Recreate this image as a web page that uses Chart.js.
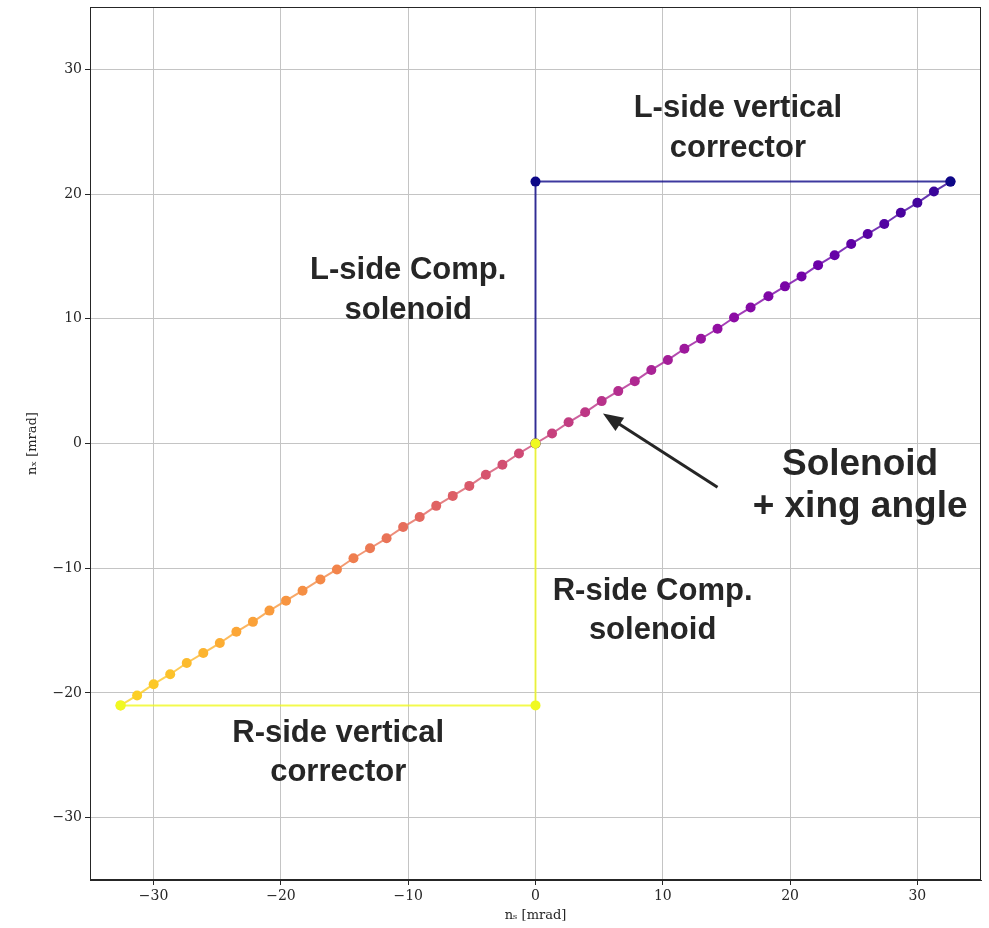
<!DOCTYPE html>
<html>
<head>
<meta charset="utf-8">
<script src="https://cdn.jsdelivr.net/npm/chart.js@4.4.1/dist/chart.umd.min.js"></script>
<style>
  body { margin: 0; background: #fff; }
  #wrap { width: 989px; height: 928px; }
</style>
</head>
<body>
<div id="wrap"><canvas id="chart" width="989" height="928"></canvas></div>
<script>
// spin direction along the path: solenoid + crossing angle (diagonal)
const diagX = [-32.6, -31.3, -30.0, -28.7, -27.4, -26.1, -24.8, -23.5, -22.2, -20.9,
  -19.6, -18.3, -16.9, -15.6, -14.3, -13.0, -11.7, -10.4, -9.1, -7.8,
  -6.5, -5.2, -3.9, -2.6, -1.3, 0.0, 1.3, 2.6, 3.9, 5.2,
  6.5, 7.8, 9.1, 10.4, 11.7, 13.0, 14.3, 15.6, 16.9, 18.3,
  19.6, 20.9, 22.2, 23.5, 24.8, 26.1, 27.4, 28.7, 30.0, 31.3, 32.6];
const diagY = [-21.0, -20.2, -19.3, -18.5, -17.6, -16.8, -16.0, -15.1, -14.3, -13.4,
  -12.6, -11.8, -10.9, -10.1, -9.2, -8.4, -7.6, -6.7, -5.9, -5.0,
  -4.2, -3.4, -2.5, -1.7, -0.8, 0.0, 0.8, 1.7, 2.5, 3.4,
  4.2, 5.0, 5.9, 6.7, 7.6, 8.4, 9.2, 10.1, 10.9, 11.8,
  12.6, 13.4, 14.3, 15.1, 16.0, 16.8, 17.6, 18.5, 19.3, 20.2, 21.0];

// L-side: vertical corrector then comp. solenoid
const lSideX = [32.6, 0, 0];
const lSideY = [21.0, 21.0, 0];
// R-side: comp. solenoid then vertical corrector
const rSideX = [0, 0, -32.6];
const rSideY = [0, -21.0, -21.0];

const xTicks = [-30, -20, -10, 0, 10, 20, 30];
const yTicks = [-30, -20, -10, 0, 10, 20, 30];

const notes = [
  { lines: ['L-side vertical', 'corrector'], x: 15.9, y: 25.3, size: 31, lh: 40 },
  { lines: ['L-side Comp.', 'solenoid'], x: -10.0, y: 12.3, size: 31, lh: 40 },
  { lines: ['Solenoid', '+ xing angle'], x: 25.5, y: -3.4, size: 37, lh: 42 },
  { lines: ['R-side Comp.', 'solenoid'], x: 9.2, y: -13.4, size: 31, lh: 39 },
  { lines: ['R-side vertical', 'corrector'], x: -15.5, y: -24.8, size: 31, lh: 39 }
];
const arrow = { from: [14.3, -3.5], to: [5.3, 2.4] };

// plasma colormap stops
const plasma = ['#0d0887', '#41049d', '#6a00a8', '#8f0da4', '#b12a90', '#cc4778',
  '#e16462', '#f2844b', '#fca636', '#fcce25', '#f0f921'];

function hexRgb(h) {
  return [parseInt(h.substr(1, 2), 16), parseInt(h.substr(3, 2), 16), parseInt(h.substr(5, 2), 16)];
}
function cmap(t, a) {
  t = Math.max(0, Math.min(1, t));
  const f = t * (plasma.length - 1);
  const i = Math.min(Math.floor(f), plasma.length - 2);
  const k = f - i;
  const c0 = hexRgb(plasma[i]), c1 = hexRgb(plasma[i + 1]);
  const c = c0.map((v, j) => Math.round(v + (c1[j] - v) * k));
  return 'rgba(' + c[0] + ',' + c[1] + ',' + c[2] + ',' + (a == null ? 1 : a) + ')';
}
const colT = diagX.map((_, i) => 0.92 - 0.017 * i);
const pointCols = colT.map(t => cmap(t));
const segCols = colT.map(t => cmap(t - 0.0085, 0.8));

const toPts = (xs, ys) => xs.map((x, i) => ({ x: x, y: ys[i] }));
const minus = v => String(v).replace('-', '\u2212');

const frame = {
  id: 'frame',
  afterDraw(chart) {
    const { ctx, chartArea: a, scales } = chart;
    ctx.save();
    // annotations
    ctx.fillStyle = '#262626';
    ctx.textAlign = 'center';
    ctx.textBaseline = 'middle';
    notes.forEach(n => {
      ctx.font = 'bold ' + n.size + 'px "Liberation Sans", Arial, sans-serif';
      const cx = scales.x.getPixelForValue(n.x);
      const cy = scales.y.getPixelForValue(n.y);
      n.lines.forEach((s, i) => {
        ctx.fillText(s, cx, cy + (i - (n.lines.length - 1) / 2) * n.lh);
      });
    });
    // arrow
    const x0 = scales.x.getPixelForValue(arrow.from[0]), y0 = scales.y.getPixelForValue(arrow.from[1]);
    const x1 = scales.x.getPixelForValue(arrow.to[0]), y1 = scales.y.getPixelForValue(arrow.to[1]);
    const ang = Math.atan2(y1 - y0, x1 - x0);
    const hl = 20, hw = 8;
    ctx.strokeStyle = '#262626';
    ctx.lineWidth = 3;
    ctx.beginPath();
    ctx.moveTo(x0, y0);
    ctx.lineTo(x1 - Math.cos(ang) * hl * 0.8, y1 - Math.sin(ang) * hl * 0.8);
    ctx.stroke();
    ctx.beginPath();
    ctx.moveTo(x1, y1);
    ctx.lineTo(x1 - Math.cos(ang) * hl - Math.sin(ang) * hw, y1 - Math.sin(ang) * hl + Math.cos(ang) * hw);
    ctx.lineTo(x1 - Math.cos(ang) * hl + Math.sin(ang) * hw, y1 - Math.sin(ang) * hl - Math.cos(ang) * hw);
    ctx.closePath();
    ctx.fill();
    // top/right spines
    ctx.strokeStyle = '#262626';
    ctx.lineWidth = 1;
    ctx.strokeRect(a.left + 0.5, a.top + 0.5, a.right - a.left - 1, a.bottom - a.top - 1);
    ctx.restore();
  }
};

new Chart(document.getElementById('chart'), {
  type: 'scatter',
  data: {
    datasets: [
      {
        data: toPts(rSideX, rSideY),
        showLine: true,
        borderColor: 'rgba(240,249,33,0.8)',
        borderWidth: 2,
        pointBackgroundColor: ['#f0f921', '#f0f921', '#f0f921'],
        pointBorderWidth: 0,
        pointRadius: 5
      },
      {
        data: toPts(lSideX, lSideY),
        showLine: true,
        borderColor: 'rgba(13,8,135,0.8)',
        borderWidth: 2,
        pointBackgroundColor: '#0d0887',
        pointBorderWidth: 0,
        pointRadius: 5
      },
      {
        data: toPts(diagX, diagY),
        showLine: true,
        borderWidth: 2,
        borderColor: segCols[0],
        segment: { borderColor: c => segCols[c.p0DataIndex] },
        pointBackgroundColor: pointCols,
        pointBorderWidth: 0,
        pointRadius: 5
      }
    ]
  },
  options: {
    responsive: false,
    devicePixelRatio: 1,
    animation: false,
    layout: { padding: { top: 7, right: 8, left: 0, bottom: 0 } },
    plugins: { legend: { display: false }, tooltip: { enabled: false } },
    scales: {
      x: {
        type: 'linear',
        min: -35, max: 35,
        afterBuildTicks: s => { s.ticks = xTicks.map(v => ({ value: v })); },
        afterFit: s => { s.height = 48; s.paddingLeft = 0; s.paddingRight = 0; },
        ticks: {
          callback: v => minus(v),
          color: '#262626',
          padding: 3,
          maxRotation: 0,
          font: { family: '"DejaVu Serif", serif', size: 14 }
        },
        grid: { color: '#c4c4c4', lineWidth: 1, tickColor: '#262626', tickLength: 5 },
        border: { color: '#262626', width: 1 },
        title: {
          display: true,
          text: 'n\u209b [mrad]',
          color: '#262626',
          padding: { top: 0, bottom: 5 },
          font: { family: '"DejaVu Serif", serif', size: 13 }
        }
      },
      y: {
        type: 'linear',
        min: -35, max: 35,
        afterBuildTicks: s => { s.ticks = yTicks.map(v => ({ value: v })); },
        afterFit: s => { s.width = 90; s.paddingTop = 0; s.paddingBottom = 0; },
        ticks: {
          callback: v => minus(v),
          color: '#262626',
          padding: 3,
          font: { family: '"DejaVu Serif", serif', size: 14 }
        },
        grid: { color: '#c4c4c4', lineWidth: 1, tickColor: '#262626', tickLength: 5 },
        border: { color: '#262626', width: 1 },
        title: {
          display: true,
          text: 'n\u2093 [mrad]',
          color: '#262626',
          padding: { top: 25, bottom: 0 },
          font: { family: '"DejaVu Serif", serif', size: 13 }
        }
      }
    }
  },
  plugins: [frame]
});
</script>
</body>
</html>
